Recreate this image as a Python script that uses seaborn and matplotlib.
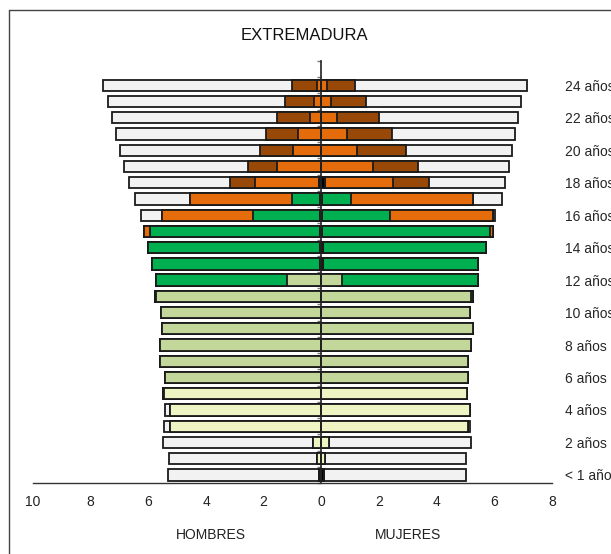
import numpy as np
import pandas as pd
import matplotlib
matplotlib.use("Agg")
import matplotlib.pyplot as plt
from matplotlib.lines import Line2D
import seaborn as sns

sns.set_style("white")
plt.rcParams['font.family'] = ['Liberation Sans', 'DejaVu Sans']

# ages 0..24 (index = edad)
edades = list(range(25))
etiquetas = ["< 1 año"] + [f"{e} años" for e in range(2, 25, 2)]

# segments from the centre outwards
categorias = ["otros", "infantil", "primaria", "eso", "bach_fp", "universidad", "no_estudia"]
colores = {
    "otros": "#000000",
    "infantil": "#EEF4C2",
    "primaria": "#C4D79B",
    "eso": "#00B050",
    "bach_fp": "#E46C0A",
    "universidad": "#984807",
    "no_estudia": "#F2F2F2",
}

# HOMBRES (%), age 0 -> 24
h_otros = [0.07, 0, 0, 0, 0, 0, 0, 0, 0, 0, 0, 0, 0, 0.05, 0.05, 0.05, 0.03, 0.03, 0.08,
           0, 0, 0, 0, 0, 0]
h_infantil = [0, 0.16, 0.28, 5.26, 5.26, 5.45, 0, 0, 0, 0, 0, 0, 0, 0, 0, 0, 0, 0, 0,
              0, 0, 0, 0, 0, 0]
h_primaria = [0, 0, 0, 0, 0, 0.05, 5.41, 5.58, 5.61, 5.53, 5.57, 5.72, 1.18, 0, 0, 0, 0, 0, 0,
              0, 0, 0, 0, 0, 0]
h_eso = [0, 0, 0, 0, 0, 0, 0, 0, 0, 0, 0, 0.05, 4.54, 5.84, 5.96, 5.90, 2.34, 0.98, 0,
         0, 0, 0, 0, 0, 0]
h_bach_fp = [0, 0, 0, 0, 0, 0, 0, 0, 0, 0, 0, 0, 0, 0, 0, 0.21, 3.16, 3.54, 2.21,
             1.54, 1.00, 0.80, 0.41, 0.27, 0.15]
h_universidad = [0, 0, 0, 0, 0, 0, 0, 0, 0, 0, 0, 0, 0, 0, 0, 0, 0, 0, 0.87,
                 1.02, 1.11, 1.13, 1.14, 1.00, 0.86]
h_no_estudia = [5.24, 5.13, 5.21, 0.21, 0.15, 0, 0, 0, 0, 0, 0, 0, 0, 0, 0, 0, 0.74, 1.91, 3.50,
                4.28, 4.87, 5.18, 5.71, 6.14, 6.55]

# MUJERES (%), age 0 -> 24
m_otros = [0.08, 0, 0, 0, 0, 0, 0, 0, 0, 0, 0, 0, 0, 0.07, 0.07, 0.04, 0.03, 0.03, 0.12,
           0, 0, 0, 0, 0, 0]
m_infantil = [0, 0.13, 0.26, 5.08, 5.15, 5.06, 0, 0, 0, 0, 0, 0, 0, 0, 0, 0, 0, 0, 0,
              0, 0, 0, 0, 0, 0]
m_primaria = [0, 0, 0, 0, 0, 0, 5.10, 5.08, 5.19, 5.25, 5.16, 5.20, 0.72, 0, 0, 0, 0, 0, 0,
              0, 0, 0, 0, 0, 0]
m_eso = [0, 0, 0, 0, 0, 0, 0, 0, 0, 0, 0, 0.05, 4.71, 5.36, 5.65, 5.81, 2.36, 1.01, 0,
         0, 0, 0, 0, 0, 0]
m_bach_fp = [0, 0, 0, 0, 0, 0, 0, 0, 0, 0, 0, 0, 0, 0, 0, 0.11, 3.56, 4.23, 2.38,
             1.79, 1.23, 0.89, 0.56, 0.35, 0.21]
m_universidad = [0, 0, 0, 0, 0, 0, 0, 0, 0, 0, 0, 0, 0, 0, 0, 0, 0, 0, 1.23,
                 1.55, 1.70, 1.55, 1.44, 1.21, 0.95]
m_no_estudia = [4.93, 4.88, 4.93, 0.09, 0, 0, 0, 0, 0, 0, 0, 0, 0, 0, 0, 0, 0.07, 0.98, 2.65,
                3.16, 3.69, 4.29, 4.83, 5.38, 5.97]

hombres = dict(zip(categorias, [h_otros, h_infantil, h_primaria, h_eso, h_bach_fp,
                                h_universidad, h_no_estudia]))
mujeres = dict(zip(categorias, [m_otros, m_infantil, m_primaria, m_eso, m_bach_fp,
                                m_universidad, m_no_estudia]))

rows = []
for sexo, datos, signo in [("H", hombres, -1), ("M", mujeres, 1)]:
    acum = np.zeros(len(edades))
    for cat in categorias:
        acum = acum + np.array(datos[cat])
        for e, v in zip(edades, acum):
            rows.append({"sexo": sexo, "cat": cat, "edad": e, "acum": signo * v})
df = pd.DataFrame(rows)

fig = plt.figure(figsize=(6.11, 5.54), dpi=100)
ax = fig.add_axes([33 / 611, 71 / 554, 519 / 611, 422 / 554])

# draw outermost layer first, inner layers on top
for cat in reversed(categorias):
    for sexo in ["H", "M"]:
        sub = df[(df.cat == cat) & (df.sexo == sexo)]
        sns.barplot(data=sub, x="acum", y="edad", orient="h", native_scale=True,
                    color=colores[cat], saturation=1, width=0.7, errorbar=None,
                    edgecolor="#1a1a1a", linewidth=1.3, ax=ax)

ax.set_xlim(-10, 8)
ax.set_ylim(-0.5, 25.5)
ax.set_xlabel("")
ax.set_ylabel("")

ax.set_xticks(np.arange(-10, 9, 2))
ax.set_xticklabels([str(abs(v)) for v in range(-10, 9, 2)], fontsize=10, color="#222")
ax.tick_params(axis="x", direction="out", length=4, width=1, color="#333", pad=5)

ax.set_yticks(range(0, 25, 2))
ax.set_yticklabels(etiquetas, fontsize=10, color="#222")
ax.set_yticks(np.arange(-0.5, 25.6, 1), minor=True)
ax.tick_params(axis="y", which="major", left=False, right=False,
               labelleft=False, labelright=True, pad=6)
ax.tick_params(axis="y", which="minor", left=True, right=False, length=3,
               width=1, color="#777")

for s in ["top", "right"]:
    ax.spines[s].set_visible(False)
ax.spines["left"].set_position(("data", 0))
ax.spines["left"].set_color("#222")
ax.spines["left"].set_linewidth(1.2)
ax.spines["bottom"].set_color("#333")
ax.spines["bottom"].set_linewidth(1)
ax.set_zorder(1)

fig.text(304 / 611, 1 - 35 / 554, "EXTREMADURA", ha="center", va="center",
         fontsize=12, color="#111")
fig.text(211 / 611, 1 - 535 / 554, "HOMBRES", ha="center", va="center",
         fontsize=10, color="#222")
fig.text(408 / 611, 1 - 535 / 554, "MUJERES", ha="center", va="center",
         fontsize=10, color="#222")

# chart-area border (left and top edges visible in the crop)
fig.add_artist(Line2D([8.5 / 611, 8.5 / 611], [0, 1 - 10 / 554], color="#444", lw=1))
fig.add_artist(Line2D([8.5 / 611, 1], [1 - 10 / 554, 1 - 10 / 554], color="#444", lw=1))

fig.savefig("out.png", dpi=100)
